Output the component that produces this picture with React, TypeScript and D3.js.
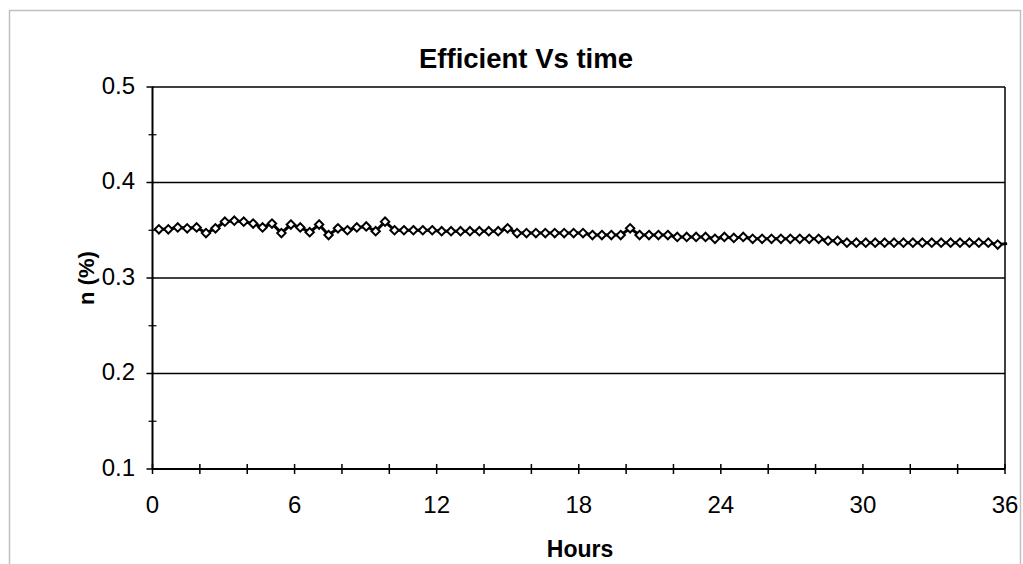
import React from "react";
import * as d3 from "d3";

// Efficiency readings (fraction) sampled at a regular interval
const START_HOUR = 0.27;
const STEP_HOURS = 0.398;
const efficiency: number[] = [
  0.351, 0.351, 0.353, 0.352, 0.353, 0.347, 0.352, 0.359, 0.36, 0.359,
  0.357, 0.353, 0.357, 0.347, 0.356, 0.353, 0.348, 0.356, 0.345, 0.352,
  0.35, 0.353, 0.354, 0.349, 0.359, 0.35, 0.35, 0.35, 0.35, 0.35,
  0.349, 0.349, 0.349, 0.349, 0.349, 0.349, 0.349, 0.352, 0.347, 0.347,
  0.347, 0.347, 0.347, 0.347, 0.347, 0.347, 0.345, 0.345, 0.345, 0.345,
  0.352, 0.345, 0.345, 0.345, 0.345, 0.343, 0.343, 0.343, 0.343, 0.341,
  0.343, 0.342, 0.343, 0.341, 0.341, 0.341, 0.341, 0.341, 0.341, 0.341,
  0.341, 0.339, 0.339, 0.337, 0.337, 0.337, 0.337, 0.337, 0.337, 0.337,
  0.337, 0.337, 0.337, 0.337, 0.337, 0.337, 0.337, 0.337, 0.337, 0.335,
  0.336,
];

const xTicks = [0, 6, 12, 18, 24, 30, 36];
const xMinorTicks = d3.range(0, 37, 2);
const yTicks = [0.1, 0.2, 0.3, 0.4, 0.5];
const yMinorTicks = [0.15, 0.25, 0.35, 0.45];

const TITLE = "Efficient Vs time";
const X_LABEL = "Hours";
const Y_LABEL = "n (%)";

export default function App() {
  const W = 1023;
  const H = 564;
  const left = 152.5;
  const right = 1005;
  const top = 87;
  const bottom = 469;

  const x = d3.scaleLinear().domain([0, 36]).range([left, right]);
  const y = d3.scaleLinear().domain([0.1, 0.5]).range([bottom, top]);

  const pts = efficiency.map((v, i) => ({ h: START_HOUR + i * STEP_HOURS, v }));
  const line = d3
    .line<{ h: number; v: number }>()
    .x((d) => x(d.h))
    .y((d) => y(d.v));

  const font = "'Liberation Sans', Arial, sans-serif";
  const diamond = (cx: number, cy: number, r: number) =>
    `M${cx},${cy - r}L${cx + r},${cy}L${cx},${cy + r}L${cx - r},${cy}Z`;

  return (
    <svg
      width={W}
      height={H}
      style={{ position: "absolute", left: 0, top: 0, display: "block" }}
      fontFamily={font}
    >
      <rect x={0} y={0} width={W} height={H} fill="#fff" />
      <rect x={9.5} y={10.5} width={1011} height={620} fill="none" stroke="#c0c0c0" strokeWidth={1.5} />
      <defs>
        <clipPath id="lineclip">
          <rect x={left - 5} y={top - 20} width={right - left + 10} height={bottom - top + 40} />
        </clipPath>
      </defs>

      {/* gridlines */}
      {yTicks.map((t) => (
        <line key={"g" + t} x1={left} x2={right} y1={y(t)} y2={y(t)} stroke="#000" strokeWidth={1.5} />
      ))}
      {/* right border */}
      <line x1={right} x2={right} y1={top} y2={bottom} stroke="#000" strokeWidth={1.5} />

      {/* axes */}
      <line x1={left} x2={left} y1={top} y2={bottom} stroke="#000" strokeWidth={2} />
      <line x1={left} x2={right} y1={bottom} y2={bottom} stroke="#000" strokeWidth={2} />

      {yTicks.map((t) => (
        <line key={"yt" + t} x1={left - 6} x2={left + 1} y1={y(t)} y2={y(t)} stroke="#000" strokeWidth={1.5} />
      ))}
      {yMinorTicks.map((t) => (
        <line key={"ym" + t} x1={left - 4} x2={left + 4} y1={y(t)} y2={y(t)} stroke="#000" strokeWidth={1.2} />
      ))}
      {xMinorTicks.map((t) => (
        <line key={"xm" + t} x1={x(t)} x2={x(t)} y1={bottom - 5} y2={bottom + 5} stroke="#000" strokeWidth={1.5} />
      ))}

      {yTicks.map((t) => (
        <text key={"yl" + t} x={left - 17.5} y={y(t)} dy="0.28em" textAnchor="end" fontSize={24}>
          {t.toFixed(1)}
        </text>
      ))}
      {xTicks.map((t) => (
        <text key={"xl" + t} x={x(t)} y={bottom + 44} textAnchor="middle" fontSize={24}>
          {t}
        </text>
      ))}

      {/* series */}
      <path d={line(pts) || ""} fill="none" stroke="#000" strokeWidth={3} clipPath="url(#lineclip)" />
      {pts
        .filter((p) => p.h <= 36)
        .map((p, i) => (
          <path key={"m" + i} d={diamond(x(p.h), y(p.v), 4.2)} fill="#fff" stroke="#000" strokeWidth={2} />
        ))}

      <text x={526} y={68} textAnchor="middle" fontSize={27.5} fontWeight="bold">
        {TITLE}
      </text>
      <text x={580} y={557} textAnchor="middle" fontSize={23} fontWeight="bold">
        {X_LABEL}
      </text>
      <text
        transform={`translate(94, 278) rotate(-90)`}
        textAnchor="middle"
        fontSize={22}
        fontWeight="bold"
      >
        {Y_LABEL}
      </text>
    </svg>
  );
}
